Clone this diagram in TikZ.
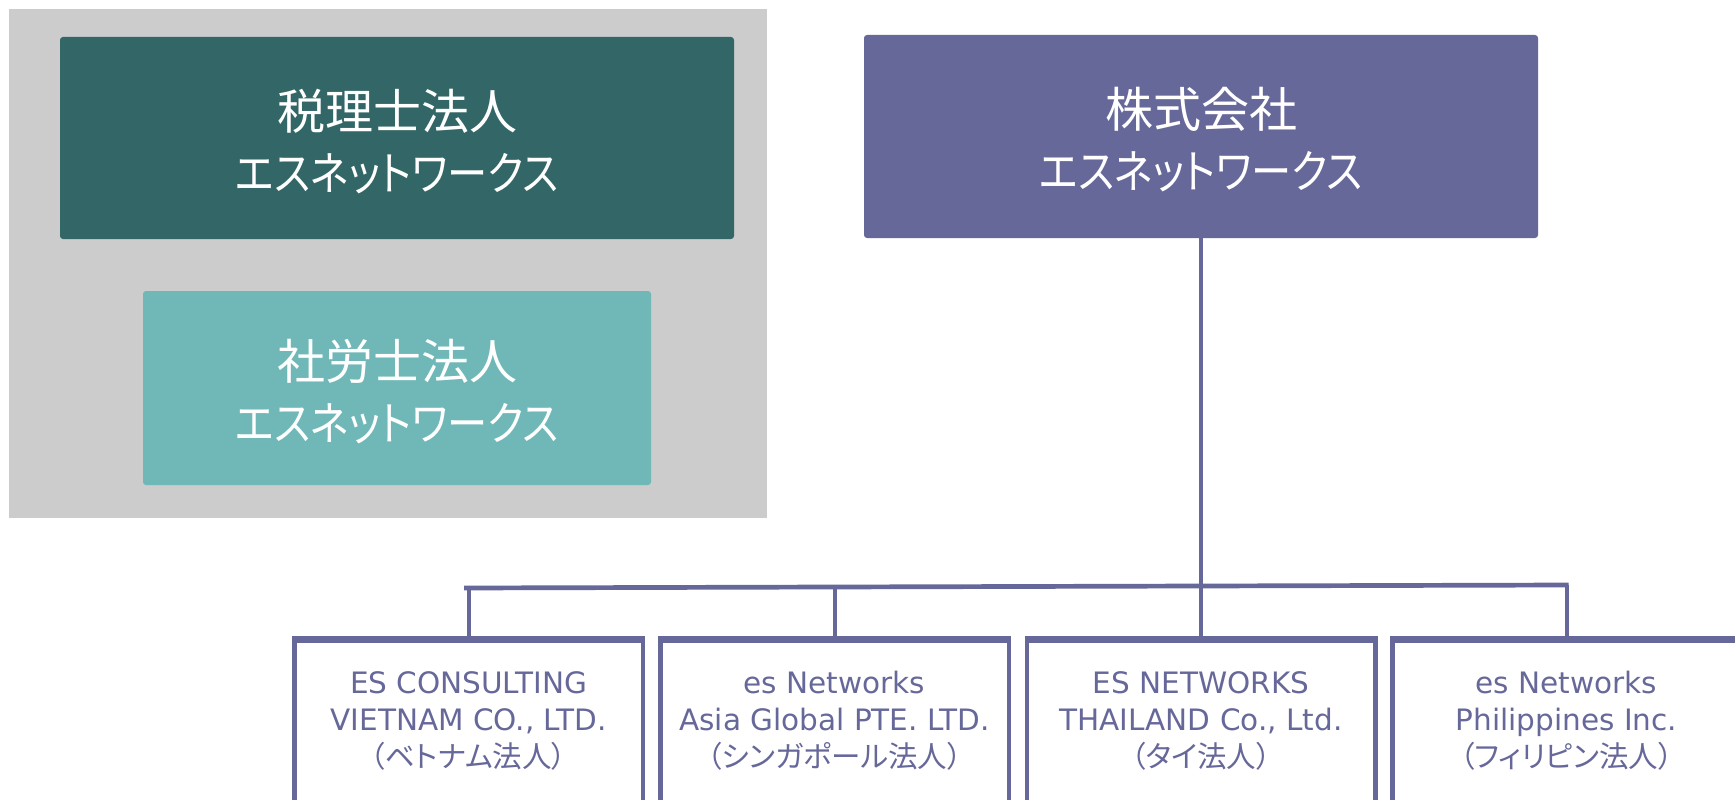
\documentclass[tikz,border=0pt]{standalone}
\usepackage{fontspec}
\usepackage{graphicx}
\setmainfont{DejaVu Sans}
\newfontfamily\jp[RawFeature=+palt]{Noto Sans CJK JP}
\definecolor{purp}{RGB}{103,104,154}
\definecolor{dteal}{RGB}{51,102,102}
\definecolor{lteal}{RGB}{112,184,184}
\definecolor{bggray}{RGB}{204,204,204}
\newcommand{\kanaline}{\scalebox{0.875}[1]{エスネットワークス}}
\begin{document}
\begin{tikzpicture}[x=1pt,y=-1pt,
  bigbox/.style={rounded corners=3pt, inner sep=0pt},
  bigtext/.style={inner sep=0pt, text=white, align=center,
    font=\jp\fontsize{46}{61}\selectfont},
  subbox/.style={draw=purp, line width=4.5pt, fill=white, inner sep=0pt,
    minimum width=348.5pt, minimum height=220pt, anchor=north},
  subtext/.style={text=purp, align=center, font=\fontsize{29.5}{37}\selectfont},
  conn/.style={draw=purp, line width=4pt}]
\useasboundingbox (0,0) rectangle (1735,800);
\fill[white] (0,0) rectangle (1735,800);
\clip (0,0) rectangle (1735,800);
% background panel
\node[fill=bggray, minimum width=758pt, minimum height=509pt, inner sep=0pt] (bg) at (388,263.5) {};
% top boxes
\node[bigbox, fill=dteal, minimum width=674pt, minimum height=202pt] (zei) at (397,138) {};
\node[bigtext] (zeiT) at (397,141.5) {{\fontsize{48}{61}\selectfont 税理士法人}\\\kanaline};
\node[bigbox, fill=lteal, minimum width=508pt, minimum height=194pt] (sha) at (397,388) {};
\node[bigtext] (shaT) at (397,391.5) {{\fontsize{48}{61}\selectfont 社労士法人}\\\kanaline};
\node[bigbox, fill=purp, minimum width=674pt, minimum height=203pt] (top) at (1201,136.5) {};
\node[bigtext] (topT) at (1201,140) {{\fontsize{48}{61}\selectfont 株式会社}\\\kanaline};
% subsidiary boxes
\foreach \n/\x in {1/468.5, 2/834.5, 3/1201, 4/1566.5}{
  \node[subbox] (b\n) at (\x,636) {};
  \draw[purp, line width=6.5pt] ([yshift=-3.25pt]b\n.north west) -- ([yshift=-3.25pt]b\n.north east);
}
\node[subtext] (t1) at (468.5,721) {ES CONSULTING\\VIETNAM CO., LTD.\\{\jp （ベトナム法人）}};
\node[subtext] (t2) at (834.5,721) {es Networks\\Asia Global PTE. LTD.\\{\jp （シンガポール法人）}};
\node[subtext] (t3) at (1201,721) {ES NETWORKS\\THAILAND Co., Ltd.\\{\jp （タイ法人）}};
\node[subtext] (t4) at (1566.5,721) {es Networks\\Philippines Inc.\\{\jp （フィリピン法人）}};
% connectors
\coordinate (barL) at (464,588);
\coordinate (barR) at (1568.5,585);
\coordinate (j1) at (468.5,588);
\coordinate (j2) at (834.5,587);
\coordinate (j3) at (1201,586);
\coordinate (j4) at (1566.5,585);
\draw[conn, line width=4.7pt] (barL) -- (barR);
\draw[conn] (top.south) -- (j3);
\foreach \n in {1,2,3,4}{ \draw[conn] (j\n) -- (b\n.north); }
\end{tikzpicture}
\end{document}
